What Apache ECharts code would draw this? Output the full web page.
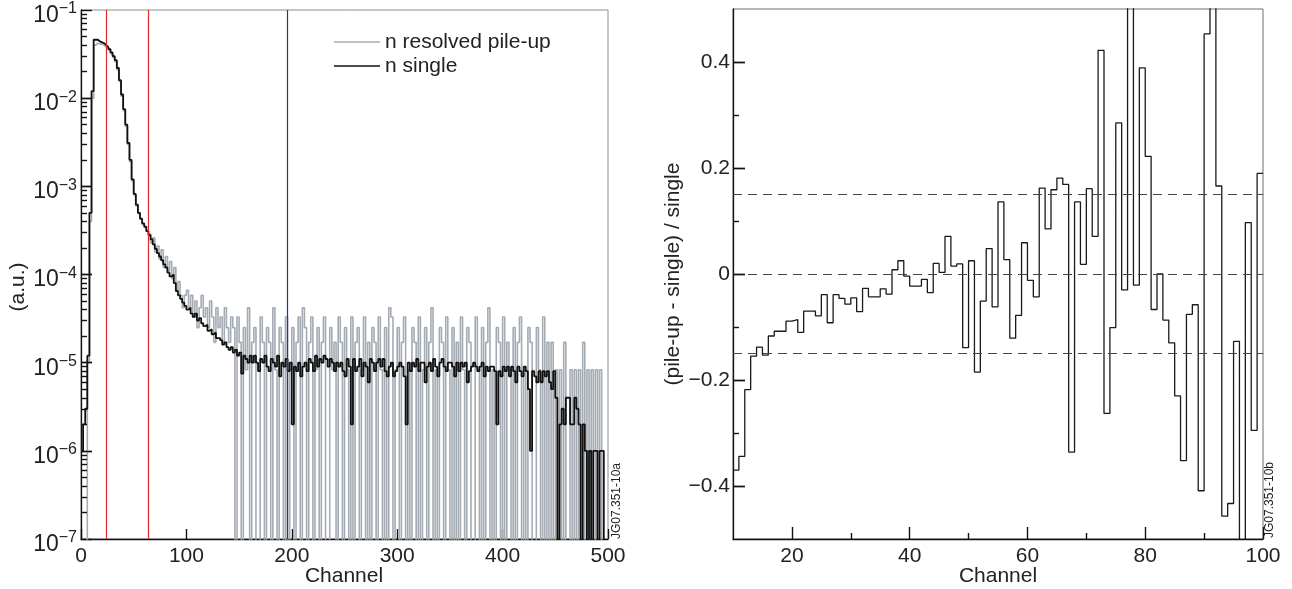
<!DOCTYPE html>
<html><head><meta charset="utf-8">
<script src="https://cdn.jsdelivr.net/npm/echarts@6/dist/echarts.min.js"></script>
<style>html,body{margin:0;padding:0;background:#fff}#c{width:1292px;height:589px}</style>
</head><body><div id="c"></div>
<script>
// ---------------- DATA ----------------
// Left panel: spectra in 2-channel bins starting at channel 0
const leftBinWidth = 2;
const singleVals = [
1.0e-6,2.0e-6,3.0e-6,1.2e-5,5e-4,1.2e-2,4.6e-2,4.6e-2,4.4e-2,4.3e-2,
4.2e-2,4.0e-2,3.8e-2,3.6e-2,3.3e-2,3.0e-2,2.7e-2,2.2e-2,1.6e-2,1.1e-2,
7.5e-3,5.0e-3,3.1e-3,2.0e-3,1.2e-3,8.2e-4,6.2e-4,5.0e-4,4.3e-4,3.8e-4,
3.5e-4,3.1e-4,2.8e-4,2.5e-4,2.2e-4,1.95e-4,1.75e-4,1.6e-4,1.45e-4,1.3e-4,
1.2e-4,1.05e-4,9.5e-5,1.0e-4,8.0e-5,
6.5e-5,5.8e-5,5.3e-5,4.8e-5,4.4e-5,4.0e-5,4.2e-5,3.6e-5,3.3e-5,3.6e-5,
3.0e-5,3.2e-5,2.8e-5,2.6e-5,2.7e-5,2.3e-5,2.4e-5,2.1e-5,2.2e-5,1.9e-5,
1.9e-5,1.8e-5,1.6e-5,1.7e-5,1.5e-5,1.4e-5,1.5e-5,1.3e-5,1.4e-5,1.2e-5,1.3e-5,7.5e-6,1.2e-5,1.1e-5,1.0e-5,
1.2e-5,1.0e-5,1.2e-5,1.0e-5,8e-6,1.1e-5,1.0e-5,1.2e-5,9e-6,8e-6,1.1e-5,1.0e-5,9e-6,1.2e-5,7e-6,1.0e-5,9e-6,1.1e-5,8e-6,1.0e-5,
2e-6,9e-6,8e-6,1.0e-5,7e-6,9e-6,1.0e-5,8e-6,1.1e-5,1.0e-5,8e-6,1.2e-5,9e-6,1.1e-5,1.0e-5,1.2e-5,1.1e-5,9e-6,1.1e-5,1.0e-5,
8e-6,1.0e-5,9e-6,1.0e-5,8e-6,7e-6,1.1e-5,9e-6,2e-6,1.1e-5,8e-6,9e-6,1.1e-5,7e-6,1.0e-5,9e-6,6e-6,1.1e-5,1.0e-5,8e-6,
1.0e-5,1.1e-5,9e-6,1.1e-5,8e-6,7e-6,9e-6,1.0e-5,7e-6,8e-6,9e-6,1.0e-5,9e-6,7e-6,2e-6,1.0e-5,8e-6,1.0e-5,9e-6,1.1e-5,
8e-6,1.0e-5,1.0e-5,6e-6,9e-6,1.0e-5,8e-6,1.1e-5,9e-6,7e-6,1.0e-5,1.1e-5,9e-6,8e-6,1.0e-5,1.0e-5,9e-6,7e-6,1.0e-5,8e-6,
1.0e-5,9e-6,1.0e-5,6e-6,8e-6,9e-6,1.0e-5,9e-6,8e-6,9e-6,1.0e-5,7e-6,9e-6,8e-6,9e-6,9e-6,8e-6,2e-6,8e-6,7e-6,
9e-6,8e-6,9e-6,7e-6,9e-6,8e-6,6e-6,9e-6,8e-6,7e-6,9e-6,8e-6,5e-6,1.0e-6,8e-6,7e-6,6e-6,8e-6,6e-6,8e-6,
7e-6,8e-6,6e-6,5e-6,8e-6,4e-6,0,2e-6,3e-6,2e-6,4e-6,4e-6,2e-6,2e-6,4e-6,3e-6,2e-6,0,2e-6,1e-6,
0,1e-6,0,1e-6,1e-6,0,1e-6,1e-6,0,0
];
const pileupVals = [
0,0,0,1.0e-5,4e-4,1.0e-2,4.0e-2,4.2e-2,4.1e-2,4.1e-2,
4.0e-2,3.8e-2,3.7e-2,3.5e-2,3.2e-2,2.9e-2,2.6e-2,2.1e-2,1.55e-2,1.05e-2,
7.2e-3,4.8e-3,3.0e-3,1.9e-3,1.15e-3,8.0e-4,6.0e-4,4.9e-4,4.2e-4,3.7e-4,
3.4e-4,3.1e-4,2.9e-4,
2.3e-4,2.6e-4,1.8e-4,2.1e-4,1.5e-4,1.9e-4,1.2e-4,1.6e-4,1.1e-4,1.4e-4,9e-5,1.2e-4,6.6e-5,8.3e-5,5.8e-5,4.2e-5,5.8e-5,
6.6e-5,4.2e-5,5.8e-5,3.3e-5,5e-5,2.5e-5,4.2e-5,5.8e-5,3.3e-5,4.2e-5,2.5e-5,5e-5,3.3e-5,1.7e-5,4.2e-5,2.5e-5,3.3e-5,1.7e-5,4.2e-5,2.5e-5,1.7e-5,3.3e-5,2.5e-5,
0,3.3e-5,1.7e-5,0,2.5e-5,8.3e-6,4.2e-5,0,1.7e-5,2.5e-5,
0,0,3.3e-5,1.7e-5,0,2.5e-5,1.7e-5,0,4.2e-5,8.3e-6,
0,2.5e-5,1.7e-5,0,3.3e-5,0,8.3e-6,2.5e-5,0,1.7e-5,
3.3e-5,0,4.2e-5,2.5e-5,0,1.7e-5,3.3e-5,0,8.3e-6,2.5e-5,
0,1.7e-5,3.3e-5,0,0,2.5e-5,8.3e-6,1.7e-5,0,3.3e-5,
1.7e-5,0,2.5e-5,8.3e-6,0,3.3e-5,0,1.7e-5,2.5e-5,0,
8.3e-6,3.3e-5,0,1.7e-5,0,2.5e-5,1.7e-5,0,3.3e-5,8.3e-6,
0,2.5e-5,0,4.2e-5,3.3e-5,0,8.3e-6,2.5e-5,0,1.7e-5,
3.3e-5,0,8.3e-6,0,2.5e-5,1.7e-5,0,3.3e-5,0,8.3e-6,
2.5e-5,0,1.7e-5,4.2e-5,0,8.3e-6,0,2.5e-5,1.7e-5,0,
3.3e-5,8.3e-6,0,2.5e-5,0,1.7e-5,0,3.3e-5,8.3e-6,0,
2.5e-5,1.7e-5,0,0,3.3e-5,8.3e-6,0,2.5e-5,0,1.7e-5,
4.2e-5,0,8.3e-6,0,2.5e-5,1.7e-5,0,3.3e-5,0,1.7e-5,
8.3e-6,0,2.5e-5,0,1.7e-5,3.3e-5,0,8.3e-6,0,2.5e-5,
1.7e-5,0,0,2.5e-5,8.3e-6,0,3.3e-5,0,1.7e-5,0,
1.7e-5,0,8.3e-6,0,8.3e-6,0,1.7e-5,0,0,8.3e-6,
0,8.3e-6,0,8.3e-6,0,1.7e-5,0,8.3e-6,0,8.3e-6,
0,8.3e-6,0,8.3e-6,0,0,0
];
const redCutChannels = [24, 64];
const blueCutChannel = 196;
const leftYTickExps = [-7, -6, -5, -4, -3, -2, -1];

// Right panel: (pile-up - single)/single per channel, channels 10..99 (bin width 1)
const ratioFirstChannel = 10;
const ratioVals = [
-0.370,-0.344,-0.218,-0.155,-0.138,-0.153,-0.117,-0.108,-0.108,-0.089,
-0.086,-0.110,-0.070,-0.070,-0.079,-0.039,-0.092,-0.039,-0.046,-0.057,
-0.045,-0.071,-0.027,-0.043,-0.043,-0.028,-0.038,0.008,0.025,-0.004,
-0.023,-0.023,-0.010,-0.035,0.020,0.003,0.071,0.015,0.019,-0.139,
0.025,-0.185,-0.051,0.048,-0.062,0.136,0.027,-0.121,-0.078,0.059,
-0.012,-0.043,0.162,0.085,0.159,0.181,0.169,-0.336,0.136,0.018,
0.161,0.071,0.422,-0.263,-0.101,0.285,-0.030,0.60,-0.021,0.389,
0.222,-0.067,0.000,-0.087,-0.130,-0.230,-0.352,-0.076,-0.058,-0.409,
0.453,0.60,0.166,-0.457,-0.433,-0.127,-0.60,0.097,-0.295,0.190
];
const ratioBandLevels = [0.15, 0, -0.15];
const ratioMajorTicksX = [20, 40, 60, 80, 100];
const ratioMinorTicksX = [30, 50, 70, 90];
const ratioMajorTicksY = [-0.4, -0.2, 0, 0.2, 0.4];
const ratioMinorTicksY = [-0.3, -0.1, 0.1, 0.3];

// ---------------- BUILD ----------------
const FONT = "'Liberation Sans', Arial, Helvetica, sans-serif";
const TXT = '#222';
const LOG_FLOOR = 1e-9; // empty bins sit below the axis and are clipped
const G0 = {left: 81, top: 10, width: 527, height: 529};
const G1 = {left: 733, top: 9, width: 530, height: 530};
const X0 = [0, 500], X1 = [10, 100];

function stepData(first, width, vals, floor) {
  const f = v => (floor !== undefined && !(v > 0)) ? floor : v;
  const pts = vals.map((v, i) => [first + i * width, f(v)]);
  pts.push([first + vals.length * width, f(vals[vals.length - 1])]);
  return pts;
}
const majorLog = leftYTickExps.map(e => +('1e' + e));
const minorLog = [];
for (let e = -7; e < -1; e++) for (let m = 2; m <= 9; m++) minorLog.push(+(m + 'e' + e));

// y-axis tick marks drawn as short segments from the left edge (pixel length -> x data units)
const tickStyle = {color: '#111', width: 1.4, type: 'solid'};
function yTicks(vals, px, grid, xr) {
  const dx = px * (xr[1] - xr[0]) / grid.width;
  return vals.map(v => [{coord: [xr[0], v], lineStyle: tickStyle}, {coord: [xr[0] + dx, v]}]);
}

const chart = echarts.init(document.getElementById('c'), null, {renderer: 'canvas'});
const axisLineBlack = {show: true, onZero: false, lineStyle: {color: '#111', width: 1.3}};
const noLine = {show: false, onZero: false};
const noSplit = {show: false};
const tick = (len, vals) => Object.assign({show: true, inside: true, length: len, lineStyle: {color: '#111', width: 1.4}},
  vals ? {customValues: vals} : {});

const option = {
  animation: false,
  backgroundColor: '#fff',
  textStyle: {fontFamily: FONT},
  grid: [
    Object.assign({show: true, borderColor: '#8c8c8c', borderWidth: 1, backgroundColor: 'transparent'}, G0),
    Object.assign({show: true, borderColor: '#6e6e6e', borderWidth: 1, backgroundColor: 'transparent'}, G1)
  ],
  legend: {
    left: 334, top: 30, orient: 'vertical', itemWidth: 46, itemHeight: 1.4, itemGap: 0,
    padding: 0, selectedMode: false,
    textStyle: {fontSize: 21, color: TXT, fontFamily: FONT, lineHeight: 24},
    data: [{name: 'n resolved pile-up', icon: 'rect'}, {name: 'n single', icon: 'rect'}]
  },
  xAxis: [
    {gridIndex: 0, type: 'value', position: 'bottom', min: X0[0], max: X0[1], interval: 100,
      axisLine: axisLineBlack, splitLine: noSplit, axisTick: tick(10),
      axisLabel: {fontSize: 21, color: TXT, margin: 7, fontFamily: FONT}},
    {gridIndex: 1, type: 'value', position: 'bottom', min: X1[0], max: X1[1],
      axisLine: axisLineBlack, splitLine: noSplit, axisTick: tick(12, ratioMajorTicksX),
      axisLabel: {fontSize: 21, color: TXT, margin: 7, fontFamily: FONT, customValues: ratioMajorTicksX}},
    {gridIndex: 1, type: 'value', position: 'bottom', min: X1[0], max: X1[1],
      axisLine: noLine, splitLine: noSplit, axisLabel: {show: false}, axisTick: tick(6, ratioMinorTicksX)}
  ],
  yAxis: [
    {gridIndex: 0, type: 'log', logBase: 10, position: 'left', min: 1e-7, max: 0.1,
      axisLine: axisLineBlack, splitLine: noSplit, axisTick: tick(11),
      axisLabel: {show: true, margin: 4, padding: [8, 0, 0, 0],
        formatter: v => { const e = Math.round(Math.log10(v)); return '{b|10}{s|' + (e < 0 ? '\u2212' : '') + Math.abs(e) + '}'; },
        rich: {b: {fontSize: 23, lineHeight: 26, color: TXT, fontFamily: FONT, verticalAlign: 'bottom'},
               s: {fontSize: 16, lineHeight: 16, color: TXT, fontFamily: FONT, verticalAlign: 'top'}}}},
    {gridIndex: 1, type: 'value', position: 'left', min: -0.5, max: 0.5,
      axisLine: axisLineBlack, splitLine: noSplit, axisTick: tick(12, ratioMajorTicksY),
      axisLabel: {show: true, fontSize: 21, color: TXT, margin: 3, fontFamily: FONT, customValues: ratioMajorTicksY,
        formatter: v => Math.abs(v) < 1e-9 ? '0' : (v < 0 ? '\u2212' : '') + Math.abs(v).toFixed(1)}}
  ],
  series: [
    {name: 'n resolved pile-up', type: 'line', xAxisIndex: 0, yAxisIndex: 0, step: 'end',
      symbol: 'none', clip: true, color: '#a4abb3',
      lineStyle: {color: '#a4abb3', width: 1.6},
      data: stepData(0, leftBinWidth, pileupVals, LOG_FLOOR),
      markLine: {silent: true, symbol: 'none', label: {show: false}, animation: false,
        data: [
          ...redCutChannels.map(c => ({xAxis: c, lineStyle: {color: '#e3262b', width: 1.2, type: 'solid'}})),
          {xAxis: blueCutChannel, lineStyle: {color: '#2e3192', width: 1.2, type: 'solid'}}
        ]}},
    {name: 'n single', type: 'line', xAxisIndex: 0, yAxisIndex: 0, step: 'end',
      symbol: 'none', clip: true, color: '#111',
      lineStyle: {color: '#111', width: 1.8},
      data: stepData(0, leftBinWidth, singleVals, LOG_FLOOR),
      markLine: {silent: true, symbol: 'none', label: {show: false}, animation: false,
        data: [...yTicks(majorLog.slice(1, -1), 11, G0, X0), ...yTicks(minorLog, 6, G0, X0)]}},
    {name: 'ratio', type: 'line', xAxisIndex: 1, yAxisIndex: 1, step: 'end',
      symbol: 'none', clip: true, color: '#1a1a1a',
      lineStyle: {color: '#1a1a1a', width: 1.3},
      data: stepData(ratioFirstChannel, 1, ratioVals),
      markLine: {silent: true, symbol: 'none', label: {show: false}, animation: false,
        lineStyle: {color: '#444', width: 1, type: [9, 6]},
        data: [...ratioBandLevels.map(v => ({yAxis: v})),
               ...yTicks(ratioMajorTicksY, 12, G1, X1), ...yTicks(ratioMinorTicksY, 6, G1, X1)]}}
  ],
  graphic: [
    {type: 'text', x: 18, y: 287, rotation: Math.PI / 2,
      style: {text: '(a.u.)', font: '21px ' + FONT, fill: TXT, textAlign: 'center', textVerticalAlign: 'middle'}},
    {type: 'text', x: 344, y: 576,
      style: {text: 'Channel', font: '21px ' + FONT, fill: TXT, textAlign: 'center', textVerticalAlign: 'middle'}},
    {type: 'text', x: 998, y: 576,
      style: {text: 'Channel', font: '21px ' + FONT, fill: TXT, textAlign: 'center', textVerticalAlign: 'middle'}},
    {type: 'text', x: 673, y: 274, rotation: Math.PI / 2,
      style: {text: '(pile-up - single) / single', font: '21px ' + FONT, fill: TXT, textAlign: 'center', textVerticalAlign: 'middle'}},
    {type: 'text', x: 617, y: 501, rotation: Math.PI / 2,
      style: {text: 'JG07.351-10a', font: '12px ' + FONT, fill: TXT, textAlign: 'center', textVerticalAlign: 'middle'}},
    {type: 'text', x: 1270, y: 500, rotation: Math.PI / 2,
      style: {text: 'JG07.351-10b', font: '12px ' + FONT, fill: TXT, textAlign: 'center', textVerticalAlign: 'middle'}}
  ]
};
chart.setOption(option);
</script>
</body></html>
